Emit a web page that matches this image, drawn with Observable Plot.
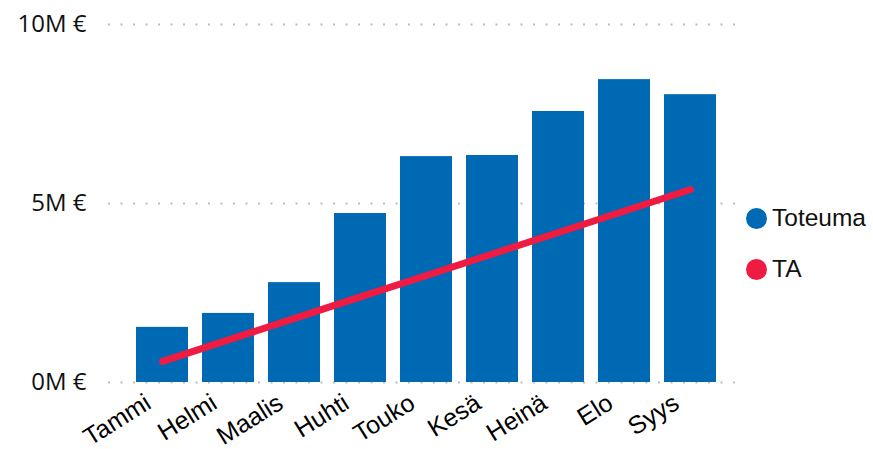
<!DOCTYPE html>
<html>
<head>
<meta charset="utf-8">
<script src="https://cdn.jsdelivr.net/npm/d3@7"></script>
<script src="https://cdn.jsdelivr.net/npm/@observablehq/plot@0.6"></script>
<style>
  html, body { margin: 0; padding: 0; background: #fff; }
  #wrap { position: relative; width: 873px; height: 449px; }
  #wrap svg { overflow: visible; }
  #legend { position: absolute; left: 746px; top: 0; font-family: "Liberation Sans", Arial, sans-serif; font-size: 24.5px; color: #111; }
  .item { position: absolute; display: flex; align-items: center; white-space: nowrap; }
  .sw { width: 21px; height: 21px; border-radius: 50%; margin-right: 5px; flex: none; }
</style>
</head>
<body>
<div id="wrap"><div id="legend"></div></div>
<script>
const months = ["Tammi", "Helmi", "Maalis", "Huhti", "Touko", "Kesä", "Heinä", "Elo", "Syys"];
const toteuma = [1.54e6, 1.93e6, 2.79e6, 4.72e6, 6.31e6, 6.34e6, 7.57e6, 8.46e6, 8.04e6];
const ta = [0.59e6, 1.19e6, 1.79e6, 2.39e6, 2.99e6, 3.59e6, 4.19e6, 4.79e6, 5.39e6];
const yTicks = [0, 5e6, 10e6];
const seriesNames = ["Toteuma", "TA"];
const seriesColors = ["#0069B4", "#EE1B42"];

const bars = months.map((m, i) => ({month: m, value: toteuma[i]}));
const line = months.map((m, i) => ({month: m, value: ta[i]}));

const chart = Plot.plot({
  width: 873,
  height: 449,
  marginLeft: 108,
  marginRight: 133,
  marginTop: 24,
  marginBottom: 67,
  style: {fontFamily: "'Liberation Sans', Arial, sans-serif", color: "#111", background: "#fff"},
  x: {domain: months, range: [128, 724], paddingInner: 0.215, paddingOuter: 0.1075, label: null},
  y: {domain: [0, 10e6], label: null},
  marks: [
    Plot.gridY(yTicks, {stroke: "#bdbdbd", strokeOpacity: 1, strokeWidth: 2, strokeDasharray: "2,10.5"}),
    Plot.barY(bars, {x: "month", y: "value", fill: seriesColors[0]}),
    Plot.line(line, {x: "month", y: "value", stroke: seriesColors[1], strokeWidth: 7, strokeLinecap: "round"}),
    Plot.axisY(yTicks, {tickSize: 0, tickPadding: 22, tickFormat: d => (d / 1e6) + "M €", fontSize: 24, fontFamily: "'Open Sans', sans-serif", label: null}),
    Plot.axisX({tickSize: 0, tickRotate: -32, tickPadding: 0, dx: -14, dy: 18, fontSize: 25, fill: "#000", label: null})
  ]
});
document.getElementById("wrap").prepend(chart);

const legend = document.getElementById("legend");
seriesNames.forEach((name, i) => {
  const item = document.createElement("div");
  item.className = "item";
  item.style.top = (204 + i * 51) + "px";
  const sw = document.createElement("span");
  sw.className = "sw";
  sw.style.background = seriesColors[i];
  const t = document.createElement("span");
  t.textContent = name;
  item.append(sw, t);
  legend.append(item);
});
</script>
</body>
</html>
